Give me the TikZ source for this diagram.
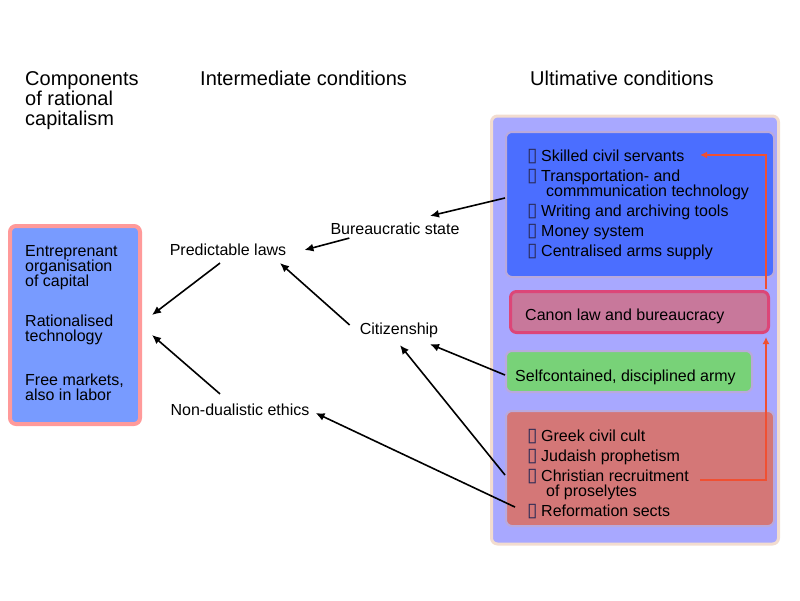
\documentclass[tikz,border=0pt]{standalone}
\usepackage{fontspec}
\setmainfont{Liberation Sans}
\newfontfamily\symfont{DejaVu Sans}
\usetikzlibrary{calc,arrows.meta}

\definecolor{compfill}{HTML}{789BFF}
\definecolor{compline}{HTML}{FF9A9A}
\definecolor{ultfill}{HTML}{A8A8FF}
\definecolor{ultline}{HTML}{F2DCCF}
\definecolor{bluefill}{HTML}{4B6EFF}
\definecolor{canonfill}{HTML}{C8789B}
\definecolor{canonline}{HTML}{DC4678}
\definecolor{greenfill}{HTML}{78D278}
\definecolor{redfill}{HTML}{D47777}
\definecolor{softline}{HTML}{B9A9DC}
\definecolor{arrowred}{HTML}{F05032}
\definecolor{bxgray}{HTML}{2A2A55}

\newcommand{\bx}{\makebox[14pt][l]{\color{bxgray}\symfont\fontsize{19}{19}\selectfont ▯}}

\begin{document}
\begin{tikzpicture}[x=1pt,y=-1pt,
    txt/.style={font=\fontsize{16}{15}\selectfont,inner sep=3pt},
    head/.style={font=\fontsize{20}{20}\selectfont,anchor=base west,inner sep=0pt},
    line/.style={font=\fontsize{16}{15}\selectfont,anchor=base west,inner sep=0pt},
    panel/.style={rounded corners=6pt,inner sep=0pt},
    arr/.style={-{Latex[length=9pt,width=8pt]},line width=1.6pt},
    redarr/.style={-{Latex[length=7pt,width=7pt]},line width=1.6pt,draw=arrowred}]
    \useasboundingbox (0,0) rectangle (800,600);

    % headings
    \node[head] (comph1) at (25,85) {Components};
    \node[head] (comph2) at (25,105) {of rational};
    \node[head] (comph3) at (25,125) {capitalism};
    \node[head] (interh) at (200,85) {Intermediate conditions};
    \node[head] (ulth) at (530,85) {Ultimative conditions};

    % boxes
    \node[panel,draw=compline,fill=compfill,line width=4pt,minimum width=130,minimum height=198] (comp) at (75,325) {};
    \node[panel,draw=ultline,fill=ultfill,line width=3pt,minimum width=287,minimum height=428] (ult) at (635,330) {};
    \node[panel,draw=softline,fill=bluefill,line width=2pt,minimum width=268,minimum height=145] (blue) at (640,204.5) {};
    \node[panel,draw=canonline,fill=canonfill,line width=3pt,minimum width=258,minimum height=41] (canon) at (639.5,312) {};
    \node[panel,draw=softline,fill=greenfill,line width=2pt,minimum width=246,minimum height=41] (green) at (629,371.5) {};
    \node[panel,draw=softline,fill=redfill,line width=2pt,minimum width=268,minimum height=115] (red) at (640,468.5) {};

    % components
    \node[line] (entr1) at (25,256) {Entreprenant};
    \node[line] (entr2) at (25,271) {organisation};
    \node[line] (entr3) at (25,286) {of capital};
    \node[line] (tech1) at (25,326) {Rationalised};
    \node[line] (tech2) at (25,341) {technology};
    \node[line] (mark1) at (25,385) {Free markets,};
    \node[line] (mark2) at (25,400) {also in labor};

    % intermediate conditions
    \node[txt] (bureau) at (395,229) {Bureaucratic state};
    \node[txt] (laws) at (228,250) {Predictable laws};
    \node[txt] (citizen) at (399,330) {Citizenship};
    \node[txt] (ethics) at (240,410) {Non-dualistic ethics};

    % ultimative conditions
    \node[line] (skill) at (527,161) {\bx Skilled civil servants};
    \node[line] (trans1) at (527,181) {\bx Transportation- and};
    \node[line] (trans2) at (546,196) {commmunication technology};
    \node[line] (writ) at (527,216) {\bx Writing and archiving tools};
    \node[line] (money) at (527,236) {\bx Money system};
    \node[line] (arms) at (527,256) {\bx Centralised arms supply};
    \node[line] (canontxt) at (525,320) {Canon law and bureaucracy};
    \node[line] (army) at (515,381) {Selfcontained, disciplined army};
    \node[line] (greek) at (527,441) {\bx Greek civil cult};
    \node[line] (juda) at (527,461) {\bx Judaish prophetism};
    \node[line] (christ1) at (527,481) {\bx Christian recruitment};
    \node[line] (christ2) at (546,496) {of proselytes};
    \node[line] (reform) at (527,516) {\bx Reformation sects};

    % black arrows
    \draw[arr] ($(blue.west)+(0,-6.5)$) -- ($(bureau.north)+(35,-4)$);
    \draw[arr] ($(bureau.south west)+(22,0)$) -- ($(laws.east)+(15,0)$);
    \draw[arr] ($(laws.south)+(-8,4)$) -- ($(comp.east)+(10,-10)$);
    \draw[arr] ($(ethics.north)+(-20,-7)$) -- ($(comp.east)+(10,10)$);
    \draw[arr] ($(citizen.west)+(-7,-5)$) -- ($(laws.south)+(52,4)$);
    \draw[arr] ($(green.west)+(0,3.5)$) -- ($(citizen.south)+(31,3.5)$);
    \draw[arr] ($(red.west)+(0,6.5)$) -- ($(citizen.south)+(1,4.5)$);
    \draw[arr] ($(reform.west)+(-12,-4)$) -- ($(ethics.east)+(3,3)$);

    % red arrows
    \coordinate (skillin) at (700,155);
    \coordinate (christout) at (700,480);
    \draw[redarr] (christout) -| ($(canon.south east)+(-4,3)$);
    \draw[redarr] ($(canon.north east)+(-4,-1.5)$) |- (skillin);
\end{tikzpicture}
\end{document}
